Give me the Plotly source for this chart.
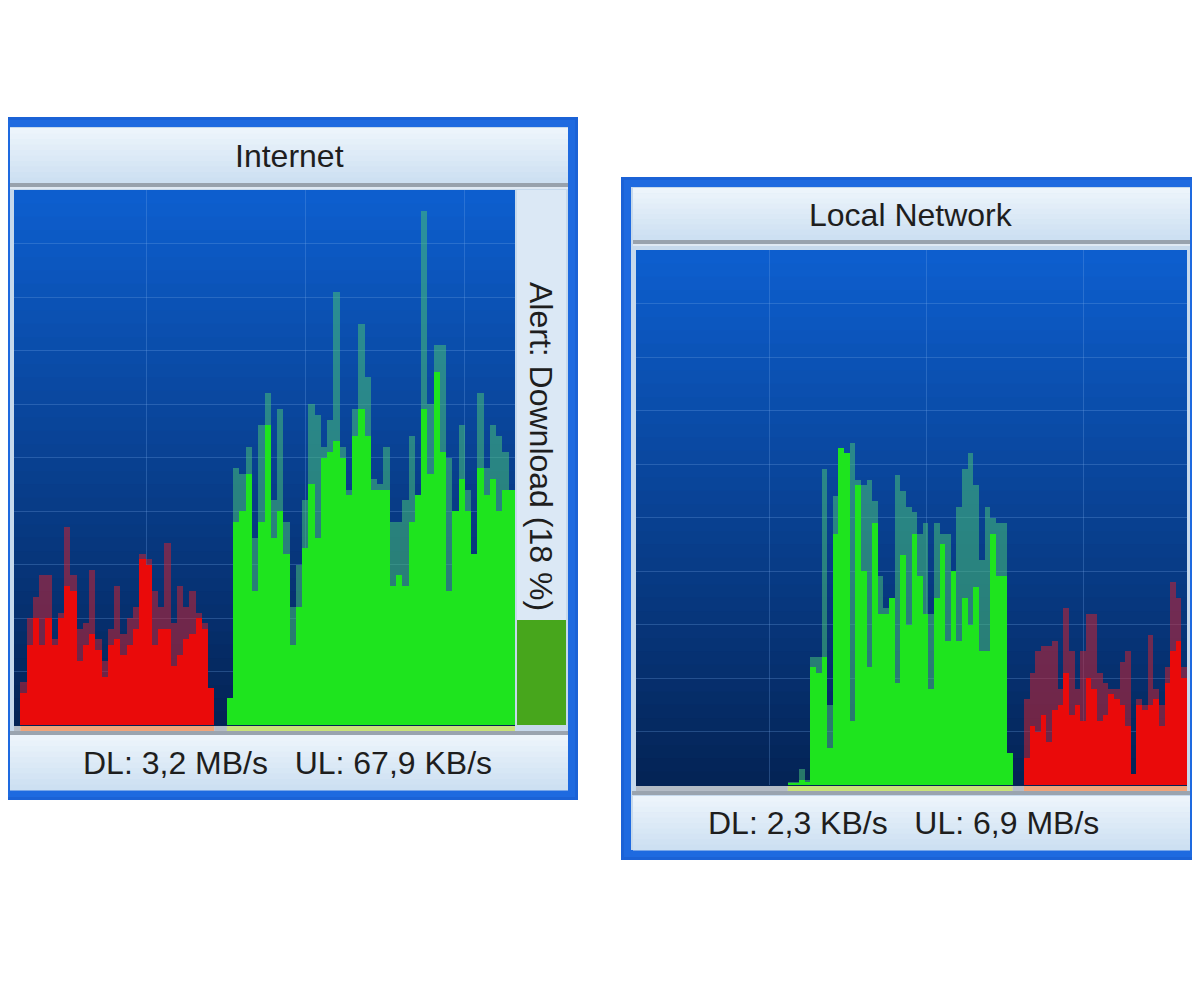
import plotly.graph_objects as go

# ---------------- data (percent of graph height per time sample) ----------------
internet_samples = 80
internet_ul_start = 1
internet_ul = [6, 15, 20, 15, 20, 15, 20, 26, 25, 12, 15, 17, 14, 9, 15, 16, 13, 15, 18, 31,
               30, 15, 18, 18, 11, 13, 16, 17, 20, 18, 7]
internet_ul_peak = [8, 20, 24, 28, 28, 16, 21, 37, 28, 18, 19, 29, 16, 12, 18, 26, 17, 20, 22, 32,
                    31, 25, 22, 34, 19, 26, 22, 25, 21, 19, 7]
internet_dl_start = 34
internet_dl = [5, 38, 40, 47, 25, 38, 56, 35, 40, 32, 15, 22, 33, 45, 35, 50, 51, 53, 50, 43,
               54, 59, 54, 44, 44, 44, 26, 28, 26, 38, 43, 59, 47, 66, 51, 25, 40, 46, 40, 32,
               48, 43, 46, 40, 44, 44]
internet_dl_peak = [5, 48, 47, 52, 35, 56, 62, 42, 59, 38, 22, 30, 42, 60, 58, 52, 57, 81, 52, 44,
                    59, 75, 65, 46, 45, 52, 38, 38, 42, 54, 43, 96, 60, 71, 71, 50, 40, 56, 44, 32,
                    62, 48, 56, 54, 51, 44]
internet_alert_pct = 18

lan_samples = 98
lan_dl_start = 27
lan_dl = [0.3, 0.3, 1, 0.5,
          22, 21, 24, 7, 47, 63, 62, 12, 56, 40, 22, 49, 32, 32, 35, 19, 43, 30, 47, 39, 32,
          18, 35, 45, 27, 40, 27, 35, 30, 37, 25, 25, 47, 39, 39, 6]
lan_dl_peak = [0.5, 0.5, 3, 1,
               24, 24, 59, 15, 54, 63, 62, 64, 57, 56, 57, 53, 39, 33, 35, 58, 55, 52, 51, 47, 49,
               32, 49, 47, 47, 40, 52, 59, 62, 56, 42, 52, 50, 49, 49, 6]
lan_ul_start = 69
lan_ul = [5, 11, 10, 13, 8, 14, 15, 21, 13, 15, 12, 20, 18, 12, 13, 17, 16, 15, 11, 2,
          15, 14, 15, 16, 11, 19, 25, 27, 20]
lan_ul_peak = [16, 21, 25, 26, 26, 27, 18, 33, 25, 18, 25, 32, 32, 21, 19, 18, 18, 23, 25, 2,
               16, 15, 28, 18, 15, 22, 38, 35, 22]

titles = ["Internet", "Local Network"]
footers = ["DL: 3,2 MB/s   UL: 67,9 KB/s", "DL: 2,3 KB/s   UL: 6,9 MB/s"]
alert_text = "Alert: Download (18 %)"

# ---------------- geometry helpers ----------------
W, H, OFF = 1192, 973, 8


def X(x):
    return (x - OFF) / W


def Y(y):
    return 1 - (y - OFF) / H


shapes = []


def rect(x0, y0, x1, y1, color, layer="below"):
    shapes.append(dict(type="rect", xref="paper", yref="paper",
                       x0=X(x0), x1=X(x1), y0=Y(y1), y1=Y(y0),
                       fillcolor=color, line=dict(width=0), layer=layer))


def lerp(c0, c1, t):
    return "rgb(%d,%d,%d)" % tuple(round(a + (b - a) * t) for a, b in zip(c0, c1))


def vgrad(x0, y0, x1, y1, ctop, cbot, steps=8):
    h = (y1 - y0) / steps
    for i in range(steps):
        rect(x0, y0 + i * h, x1, y0 + (i + 1) * h + 0.6, lerp(ctop, cbot, i / max(steps - 1, 1)))


def full(n, start, vals):
    arr = [None] * n
    for i, v in enumerate(vals):
        arr[start + i] = v
    return arr


FRAME = "#1b62d6"
INNER = "#c6d9ec"
HEAD_TOP, HEAD_BOT = (236, 244, 251), (205, 224, 242)

panels = [
    dict(frame=(0, 117, 578, 800), inner=(10, 127, 568, 790), head=(10, 128, 568, 183),
         sep=183, plot=(14, 190, 515, 725), foot=(10, 735, 568, 790),
         n=internet_samples, ul=(internet_ul_start, internet_ul, internet_ul_peak),
         dl=(internet_dl_start, internet_dl, internet_dl_peak),
         title=(289, 156), footer=(287, 763), grid0=20.7, griddt=25.4),
    dict(frame=(621, 177, 1200, 860), inner=(631, 187, 1190, 850), head=(633, 188, 1190, 240),
         sep=240, plot=(636, 250, 1187, 785), foot=(633, 796, 1190, 850),
         n=lan_samples, ul=(lan_ul_start, lan_ul, lan_ul_peak),
         dl=(lan_dl_start, lan_dl, lan_dl_peak),
         title=(911, 215), footer=(903, 823), grid0=23.3, griddt=27.9),
]

fig = go.Figure()
annotations = []
layout_axes = {}
FONT = dict(family="Liberation Sans, Arial, sans-serif", size=32, color="#1e1e1e")

for k, p in enumerate(panels):
    ax = "" if k == 0 else str(k + 1)
    fx0, fy0, fx1, fy1 = p["frame"]
    rect(fx0, fy0, fx1, fy1, FRAME)
    rect(fx0 + 3, fy0 + 3, fx1 - 3, fy1 - 3, "#1e6ae0")
    ix0, iy0, ix1, iy1 = p["inner"]
    rect(ix0, iy0, ix1, iy1, INNER)
    hx0, hy0, hx1, hy1 = p["head"]
    vgrad(hx0, hy0, hx1, hy1, HEAD_TOP, HEAD_BOT, steps=10)
    rect(hx0, p["sep"], hx1, p["sep"] + 4, "#98a2ad")
    rect(hx0, p["sep"] + 4, hx1, p["sep"] + 6, "#dfe9f3")
    px0, py0, px1, py1 = p["plot"]
    n = p["n"]
    ul_s, ul_v, ul_p = p["ul"]
    dl_s, dl_v, dl_p = p["dl"]

    def kind(i):
        if ul_s <= i < ul_s + len(ul_v):
            return "#f0a47a"
        if dl_s <= i < dl_s + len(dl_v):
            return "#c9e27a"
        return "#b4bcc6"

    run_start = 0
    for i in range(1, n + 1):
        if i == n or kind(i) != kind(run_start):
            xa = px0 + (px1 - px0) * run_start / n
            xb = px0 + (px1 - px0) * i / n
            rect(xa, py1, xb, py1 + 6, kind(run_start))
            run_start = i
    rect(px0 - 4, py1 + 6, ix1, py1 + 10, "#9aa4af")
    fox0, foy0, fox1, foy1 = p["foot"]
    vgrad(fox0, foy0, fox1, foy1, HEAD_TOP, HEAD_BOT, steps=10)

    # background gradient inside the graph
    steps = 40
    for s in range(steps):
        t = s / (steps - 1)
        shapes.append(dict(type="rect", xref="x%s domain" % ax, yref="y%s domain" % ax,
                           x0=0, x1=1, y0=1 - (s + 1) / steps - 0.002, y1=1 - s / steps,
                           fillcolor=lerp((13, 94, 206), (4, 36, 86), t),
                           line=dict(width=0), layer="below"))

    xs = list(range(n))
    xa_name = "x" + ax
    ya_name = "y" + ax
    fig.add_trace(go.Bar(x=xs, y=full(n, ul_s, ul_p), width=1, marker=dict(color="rgba(200,35,50,0.55)", line=dict(width=0)),
                         xaxis=xa_name, yaxis=ya_name, showlegend=False, hoverinfo="skip"))
    fig.add_trace(go.Bar(x=xs, y=full(n, dl_s, dl_p), width=1, marker=dict(color="rgba(70,190,120,0.55)", line=dict(width=0)),
                         xaxis=xa_name, yaxis=ya_name, showlegend=False, hoverinfo="skip"))
    fig.add_trace(go.Bar(x=xs, y=full(n, ul_s, ul_v), width=1, marker=dict(color="#ea0a0a", line=dict(width=0)),
                         xaxis=xa_name, yaxis=ya_name, showlegend=False, name="Upload"))
    fig.add_trace(go.Bar(x=xs, y=full(n, dl_s, dl_v), width=1, marker=dict(color="#1ee41e", line=dict(width=0)),
                         xaxis=xa_name, yaxis=ya_name, showlegend=False, name="Download"))

    layout_axes["xaxis" + ax] = dict(domain=[X(px0), X(px1)], range=[-0.5, n - 0.5], showgrid=True,
                                     gridcolor="rgba(120,170,235,0.28)", gridwidth=1,
                                     tick0=p["grid0"], dtick=p["griddt"], showticklabels=False,
                                     zeroline=False, ticks="", showline=False, fixedrange=True,
                                     anchor="y" + ax)
    layout_axes["yaxis" + ax] = dict(domain=[Y(py1), Y(py0)], range=[0, 100], showgrid=True,
                                     gridcolor="rgba(120,170,235,0.28)", gridwidth=1,
                                     tick0=0, dtick=10, showticklabels=False, zeroline=False,
                                     ticks="", showline=False, fixedrange=True, anchor="x" + ax)

    annotations.append(dict(text=titles[k], x=X(p["title"][0]), y=Y(p["title"][1]), xref="paper", yref="paper",
                            showarrow=False, font=FONT, xanchor="center", yanchor="middle"))
    annotations.append(dict(text=footers[k], x=X(p["footer"][0]), y=Y(p["footer"][1]), xref="paper", yref="paper",
                            showarrow=False, font=FONT, xanchor="center", yanchor="middle"))

# alert gauge on the Internet panel
rect(517, 190, 566, 725, "#dbe8f5")
fig.add_trace(go.Bar(x=[0], y=[internet_alert_pct], width=1,
                     marker=dict(color="#47a61c", line=dict(width=0)),
                     xaxis="x3", yaxis="y3", showlegend=False, hoverinfo="skip"))
layout_axes["xaxis3"] = dict(domain=[X(517), X(566)], range=[-0.5, 0.5], visible=False, fixedrange=True, anchor="y3")
layout_axes["yaxis3"] = dict(domain=[Y(725), Y(190)], range=[0, 92], visible=False, fixedrange=True, anchor="x3")
annotations.append(dict(text=alert_text, x=X(541), y=Y(446), xref="paper", yref="paper", showarrow=False,
                        font=FONT, textangle=90, xanchor="center", yanchor="middle"))

fig.update_layout(
    width=W, height=H, margin=dict(l=0, r=0, t=0, b=0),
    paper_bgcolor="white", plot_bgcolor="rgba(0,0,0,0)",
    barmode="overlay", bargap=0, shapes=shapes, annotations=annotations,
    showlegend=False, **layout_axes,
)

fig.write_html("out.html", config=dict(displayModeBar=False))
